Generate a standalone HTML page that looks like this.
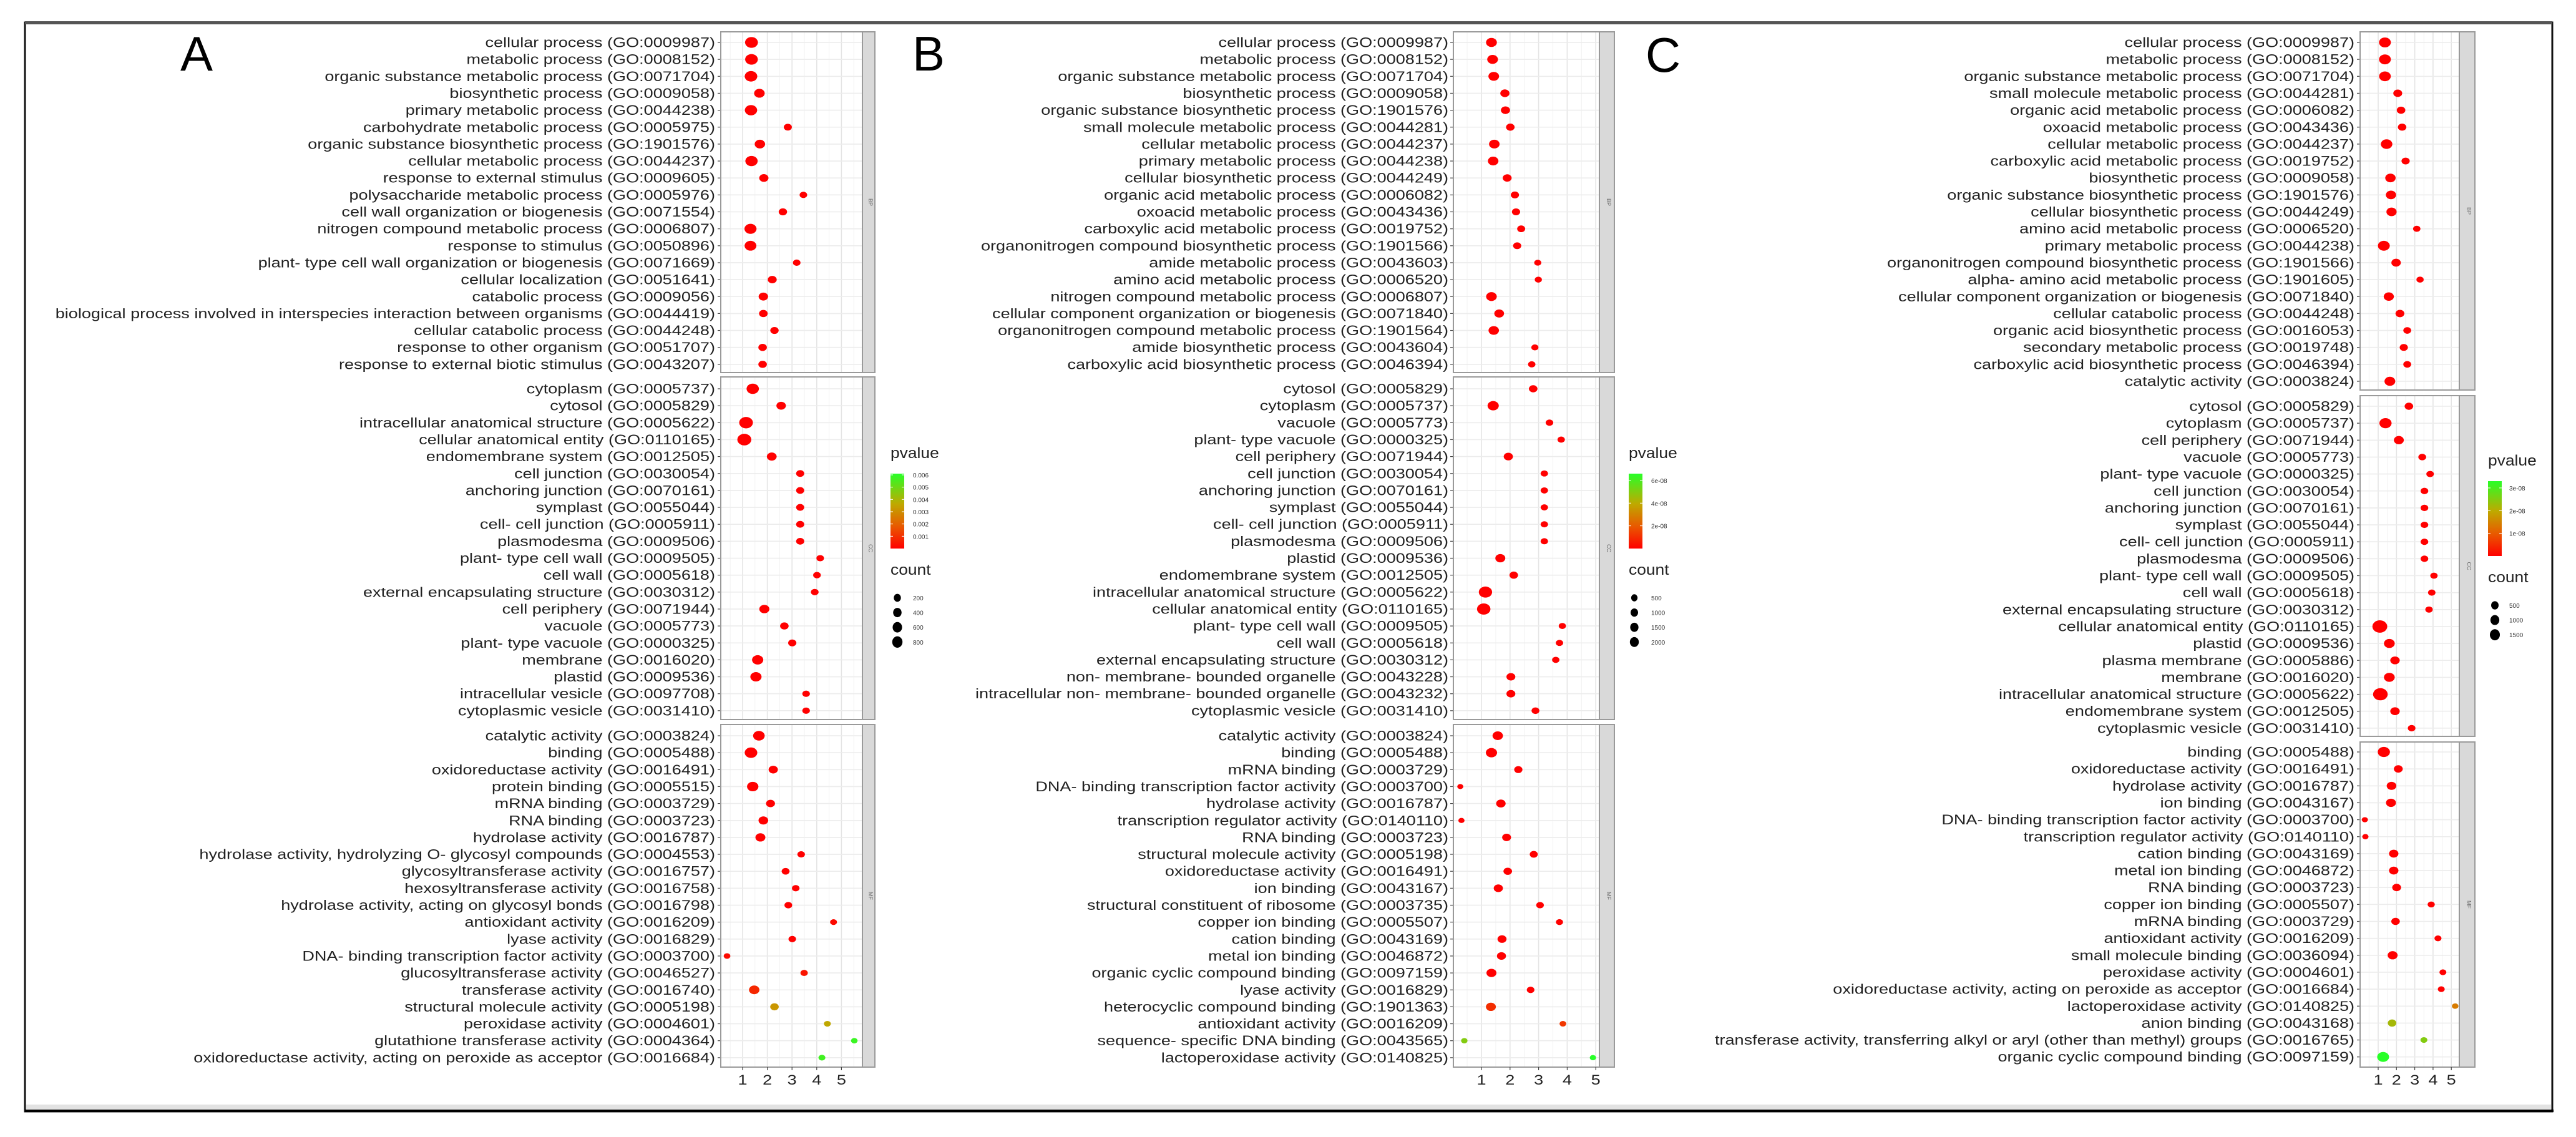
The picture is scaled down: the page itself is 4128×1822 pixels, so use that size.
<!DOCTYPE html>
<html><head><meta charset="utf-8"><title>GO enrichment dot plots</title>
<style>
html,body{margin:0;padding:0;background:#fff;}
svg{display:block;font-family:"Liberation Sans",Arial,sans-serif;}
</style></head>
<body>
<svg id="fig" width="4128" height="1822" viewBox="0 0 4128 1822" xmlns="http://www.w3.org/2000/svg">
<rect x="0" y="0" width="4128" height="1822" fill="#fff"/>
<g>
<rect x="40" y="36" width="4050" height="1745" fill="none" stroke="#111" stroke-width="3"/>
<rect x="40" y="34" width="4050" height="5" fill="#555"/>
<rect x="42" y="1770" width="4046" height="7" fill="#e2e2e2"/>
<rect x="40" y="1778" width="4052" height="4" fill="#000"/>
</g>
<text x="315" y="113" font-size="78" text-anchor="middle" fill="#000">A</text>
<text x="1488" y="113" font-size="78" text-anchor="middle" fill="#000">B</text>
<text x="2665" y="115" font-size="78" text-anchor="middle" fill="#000">C</text>
</svg>
<script>
// ---------- Panel A data ----------
const aLabels = [
"cellular process (GO:0009987)","metabolic process (GO:0008152)","organic substance metabolic process (GO:0071704)","biosynthetic process (GO:0009058)","primary metabolic process (GO:0044238)","carbohydrate metabolic process (GO:0005975)","organic substance biosynthetic process (GO:1901576)","cellular metabolic process (GO:0044237)","response to external stimulus (GO:0009605)","polysaccharide metabolic process (GO:0005976)","cell wall organization or biogenesis (GO:0071554)","nitrogen compound metabolic process (GO:0006807)","response to stimulus (GO:0050896)","plant- type cell wall organization or biogenesis (GO:0071669)","cellular localization (GO:0051641)","catabolic process (GO:0009056)","biological process involved in interspecies interaction between organisms (GO:0044419)","cellular catabolic process (GO:0044248)","response to other organism (GO:0051707)","response to external biotic stimulus (GO:0043207)",
"cytoplasm (GO:0005737)","cytosol (GO:0005829)","intracellular anatomical structure (GO:0005622)","cellular anatomical entity (GO:0110165)","endomembrane system (GO:0012505)","cell junction (GO:0030054)","anchoring junction (GO:0070161)","symplast (GO:0055044)","cell- cell junction (GO:0005911)","plasmodesma (GO:0009506)","plant- type cell wall (GO:0009505)","cell wall (GO:0005618)","external encapsulating structure (GO:0030312)","cell periphery (GO:0071944)","vacuole (GO:0005773)","plant- type vacuole (GO:0000325)","membrane (GO:0016020)","plastid (GO:0009536)","intracellular vesicle (GO:0097708)","cytoplasmic vesicle (GO:0031410)",
"catalytic activity (GO:0003824)","binding (GO:0005488)","oxidoreductase activity (GO:0016491)","protein binding (GO:0005515)","mRNA binding (GO:0003729)","RNA binding (GO:0003723)","hydrolase activity (GO:0016787)","hydrolase activity, hydrolyzing O- glycosyl compounds (GO:0004553)","glycosyltransferase activity (GO:0016757)","hexosyltransferase activity (GO:0016758)","hydrolase activity, acting on glycosyl bonds (GO:0016798)","antioxidant activity (GO:0016209)","lyase activity (GO:0016829)","DNA- binding transcription factor activity (GO:0003700)","glucosyltransferase activity (GO:0046527)","transferase activity (GO:0016740)","structural molecule activity (GO:0005198)","peroxidase activity (GO:0004601)","glutathione transferase activity (GO:0004364)","oxidoreductase activity, acting on peroxide as acceptor (GO:0016684)"];
const aFacetSizes = [20, 20, 20];
const aFacetNames = ["BP", "CC", "MF"];
const aValues = [1.36,1.36,1.34,1.68,1.34,2.83,1.70,1.36,1.86,3.46,2.63,1.32,1.32,3.19,2.20,1.84,1.84,2.29,1.81,1.81,
1.41,2.56,1.14,1.07,2.18,3.33,3.33,3.33,3.33,3.33,4.14,4.01,3.92,1.88,2.69,3.01,1.61,1.54,3.57,3.57,
1.66,1.34,2.24,1.41,2.13,1.84,1.72,3.37,2.74,3.15,2.85,4.68,3.01,0.37,3.49,1.47,2.29,4.43,5.52,4.21];
const aCounts = [650,620,600,320,560,90,300,560,180,60,110,520,480,60,150,200,130,110,120,120,
560,200,800,850,230,90,90,90,90,90,60,65,65,260,120,100,400,400,60,60,
450,600,180,420,150,220,250,60,80,60,70,30,60,25,50,300,120,30,20,30];
const aPvalues = [0,0,0,0,0,0,0,0,0,0,0,0,0,0,0,0,0,0,0,0,
0,0,0,0,0,0,0,0,0,0,0,0,0,0,0,0,0,0,0,0,
0,0,0,0,0,0,0,0,0,0,0,0.0002,0,0.0002,0.0004,0.0008,0.0032,0.0036,0.0058,0.0057];
const aTicks = [1,2,3,4,5];
const aPvalLegend = ["0.006","0.005","0.004","0.003","0.002","0.001"];
const aPvalLegendValues = [0.006,0.005,0.004,0.003,0.002,0.001];
const aCountLegend = [200,400,600,800];

// ---------- Panel B data ----------
const bLabels = [
"cellular process (GO:0009987)","metabolic process (GO:0008152)","organic substance metabolic process (GO:0071704)","biosynthetic process (GO:0009058)","organic substance biosynthetic process (GO:1901576)","small molecule metabolic process (GO:0044281)","cellular metabolic process (GO:0044237)","primary metabolic process (GO:0044238)","cellular biosynthetic process (GO:0044249)","organic acid metabolic process (GO:0006082)","oxoacid metabolic process (GO:0043436)","carboxylic acid metabolic process (GO:0019752)","organonitrogen compound biosynthetic process (GO:1901566)","amide metabolic process (GO:0043603)","amino acid metabolic process (GO:0006520)","nitrogen compound metabolic process (GO:0006807)","cellular component organization or biogenesis (GO:0071840)","organonitrogen compound metabolic process (GO:1901564)","amide biosynthetic process (GO:0043604)","carboxylic acid biosynthetic process (GO:0046394)",
"cytosol (GO:0005829)","cytoplasm (GO:0005737)","vacuole (GO:0005773)","plant- type vacuole (GO:0000325)","cell periphery (GO:0071944)","cell junction (GO:0030054)","anchoring junction (GO:0070161)","symplast (GO:0055044)","cell- cell junction (GO:0005911)","plasmodesma (GO:0009506)","plastid (GO:0009536)","endomembrane system (GO:0012505)","intracellular anatomical structure (GO:0005622)","cellular anatomical entity (GO:0110165)","plant- type cell wall (GO:0009505)","cell wall (GO:0005618)","external encapsulating structure (GO:0030312)","non- membrane- bounded organelle (GO:0043228)","intracellular non- membrane- bounded organelle (GO:0043232)","cytoplasmic vesicle (GO:0031410)",
"catalytic activity (GO:0003824)","binding (GO:0005488)","mRNA binding (GO:0003729)","DNA- binding transcription factor activity (GO:0003700)","hydrolase activity (GO:0016787)","transcription regulator activity (GO:0140110)","RNA binding (GO:0003723)","structural molecule activity (GO:0005198)","oxidoreductase activity (GO:0016491)","ion binding (GO:0043167)","structural constituent of ribosome (GO:0003735)","copper ion binding (GO:0005507)","cation binding (GO:0043169)","metal ion binding (GO:0046872)","organic cyclic compound binding (GO:0097159)","lyase activity (GO:0016829)","heterocyclic compound binding (GO:1901363)","antioxidant activity (GO:0016209)","sequence- specific DNA binding (GO:0043565)","lactoperoxidase activity (GO:0140825)"];
const bFacetSizes = [20, 20, 20];
const bFacetNames = ["BP", "CC", "MF"];
const bValues = [1.35,1.39,1.43,1.82,1.84,2.01,1.45,1.41,1.90,2.17,2.21,2.39,2.25,2.97,2.99,1.35,1.62,1.43,2.87,2.76,
2.81,1.41,3.38,3.79,1.94,3.20,3.20,3.20,3.20,3.20,1.66,2.13,1.14,1.08,3.83,3.73,3.60,2.03,2.03,2.89,
1.57,1.35,2.29,0.26,1.68,0.30,1.88,2.83,1.92,1.59,3.05,3.73,1.72,1.70,1.35,2.72,1.33,3.85,0.40,4.90];
const bCounts = [1400,1350,1300,700,680,500,1250,1250,600,400,400,350,380,150,160,1300,900,1200,160,200,
500,1600,250,200,700,200,200,200,200,200,1000,500,2900,3000,180,200,200,600,600,300,
1200,1600,400,30,800,40,600,350,500,700,250,150,650,650,1000,250,1000,100,60,50];
const bPvalues = [0,0,0,0,0,0,0,0,0,0,0,0,0,0,0,0,0,0,0,0,
0,0,0,0,0,0,0,0,0,0,0,0,0,0,0,0,0,0,0,0,
0,0,0,0,0,0,0,0,0,0,0,0,0,0,0,0,1.0e-8,1.2e-8,5.0e-8,6.6e-8];
const bTicks = [1,2,3,4,5];
const bPvalLegend = ["6e-08","4e-08","2e-08"];
const bPvalLegendValues = [6e-8,4e-8,2e-8];
const bCountLegend = [500,1000,1500,2000];

// ---------- Panel C data ----------
const cLabels = [
"cellular process (GO:0009987)","metabolic process (GO:0008152)","organic substance metabolic process (GO:0071704)","small molecule metabolic process (GO:0044281)","organic acid metabolic process (GO:0006082)","oxoacid metabolic process (GO:0043436)","cellular metabolic process (GO:0044237)","carboxylic acid metabolic process (GO:0019752)","biosynthetic process (GO:0009058)","organic substance biosynthetic process (GO:1901576)","cellular biosynthetic process (GO:0044249)","amino acid metabolic process (GO:0006520)","primary metabolic process (GO:0044238)","organonitrogen compound biosynthetic process (GO:1901566)","alpha- amino acid metabolic process (GO:1901605)","cellular component organization or biogenesis (GO:0071840)","cellular catabolic process (GO:0044248)","organic acid biosynthetic process (GO:0016053)","secondary metabolic process (GO:0019748)","carboxylic acid biosynthetic process (GO:0046394)","catalytic activity (GO:0003824)",
"cytosol (GO:0005829)","cytoplasm (GO:0005737)","cell periphery (GO:0071944)","vacuole (GO:0005773)","plant- type vacuole (GO:0000325)","cell junction (GO:0030054)","anchoring junction (GO:0070161)","symplast (GO:0055044)","cell- cell junction (GO:0005911)","plasmodesma (GO:0009506)","plant- type cell wall (GO:0009505)","cell wall (GO:0005618)","external encapsulating structure (GO:0030312)","cellular anatomical entity (GO:0110165)","plastid (GO:0009536)","plasma membrane (GO:0005886)","membrane (GO:0016020)","intracellular anatomical structure (GO:0005622)","endomembrane system (GO:0012505)","cytoplasmic vesicle (GO:0031410)",
"binding (GO:0005488)","oxidoreductase activity (GO:0016491)","hydrolase activity (GO:0016787)","ion binding (GO:0043167)","DNA- binding transcription factor activity (GO:0003700)","transcription regulator activity (GO:0140110)","cation binding (GO:0043169)","metal ion binding (GO:0046872)","RNA binding (GO:0003723)","copper ion binding (GO:0005507)","mRNA binding (GO:0003729)","antioxidant activity (GO:0016209)","small molecule binding (GO:0036094)","peroxidase activity (GO:0004601)","oxidoreductase activity, acting on peroxide as acceptor (GO:0016684)","lactoperoxidase activity (GO:0140825)","anion binding (GO:0043168)","transferase activity, transferring alkyl or aryl (other than methyl) groups (GO:0016765)","organic cyclic compound binding (GO:0097159)"];
const cFacetSizes = [21, 20, 19];
const cFacetNames = ["BP", "CC", "MF"];
const cValues = [1.37,1.37,1.37,2.07,2.25,2.31,1.46,2.50,1.67,1.70,1.73,3.11,1.31,1.98,3.29,1.58,2.19,2.59,2.40,2.59,1.64,
2.68,1.40,2.13,3.41,3.84,3.53,3.53,3.53,3.53,3.53,4.05,3.93,3.78,1.09,1.61,1.92,1.61,1.12,1.92,2.83,
1.31,2.10,1.73,1.70,0.27,0.30,1.85,1.85,2.01,3.90,1.95,4.27,1.79,4.54,4.45,5.21,1.76,3.50,1.27];
const cCounts = [1000,1000,950,300,250,240,900,200,600,580,560,100,1000,400,90,550,300,160,200,160,700,
250,1100,500,150,120,130,130,130,130,130,100,110,110,2100,700,400,700,2000,400,130,
1100,300,450,500,20,25,400,400,300,80,250,70,500,60,60,40,250,60,1000];
const cPvalues = [0,0,0,0,0,0,0,0,0,0,0,0,0,0,0,0,0,0,0,0,0,
0,0,0,0,0,0,0,0,0,0,0,0,0,0,0,0,0,0,0,0,
0,0,0,0,0,0,0,0,0,0,0,0,0,0,0,1.4e-8,2.2e-8,2.5e-8,3.3e-8];
const cTicks = [1,2,3,4,5];
const cPvalLegend = ["3e-08","2e-08","1e-08"];
const cPvalLegendValues = [3e-8,2e-8,1e-8];
const cCountLegend = [500,1000,1500];

// ---------- layout (non-data) ----------
const NS = "http://www.w3.org/2000/svg";
const svg = document.getElementById("fig");
const ROW = 27.15;
const TXS = 1.23; // horizontal text stretch
function mk(tag, attrs, parent) {
  const e = document.createElementNS(NS, tag);
  for (const k in attrs) e.setAttribute(k, attrs[k]);
  (parent || svg).appendChild(e);
  return e;
}
const stops = [[0,[255,0,0]],[0.3,[232,90,0]],[0.6,[190,170,0]],[1,[40,255,40]]];
function pColor(t) {
  t = Math.max(0, Math.min(1, t));
  for (let i = 1; i < stops.length; i++) {
    if (t <= stops[i][0]) {
      const a = stops[i-1], b = stops[i];
      const f = (t - a[0]) / (b[0] - a[0]);
      const c = a[1].map((v, j) => Math.round(v + (b[1][j] - v) * f));
      return "rgb(" + c.join(",") + ")";
    }
  }
  return "rgb(40,255,40)";
}

const panels = [
  {id:"a", labels:aLabels, facets:aFacetSizes, fnames:aFacetNames, values:aValues, counts:aCounts, pvals:aPvalues, ticks:aTicks,
   pl:aPvalLegend, plv:aPvalLegendValues, cl:aCountLegend, pmax:0.0061,
   labelRight:1146, plotLeft:1155, plotRight:1382, stripRight:1402, x1:1190, unit:39.6,
   facetBox:[[51,597],[604,1153],[1161,1710]], firstRow:[68,623,1179],
   rBase:3.5, rK:0.2, leg:{x:1427, y:734, lx:1463, dx:1438}},
  {id:"b", labels:bLabels, facets:bFacetSizes, fnames:bFacetNames, values:bValues, counts:bCounts, pvals:bPvalues, ticks:bTicks,
   pl:bPvalLegend, plv:bPvalLegendValues, cl:bCountLegend, pmax:6.6e-8,
   labelRight:2321, plotLeft:2329, plotRight:2563, stripRight:2587, x1:2374, unit:45.8,
   facetBox:[[51,597],[604,1153],[1161,1710]], firstRow:[68,623,1179],
   rBase:3.5, rK:0.1, leg:{x:2610, y:734, lx:2646, dx:2619}},
  {id:"c", labels:cLabels, facets:cFacetSizes, fnames:cFacetNames, values:cValues, counts:cCounts, pvals:cPvalues, ticks:cTicks,
   pl:cPvalLegend, plv:cPvalLegendValues, cl:cCountLegend, pmax:3.3e-8,
   labelRight:3773, plotLeft:3782, plotRight:3941, stripRight:3966, x1:3811, unit:29.3,
   facetBox:[[51,625],[634,1180],[1189,1710]], firstRow:[68,651,1205],
   rBase:3.5, rK:0.14, leg:{x:3987, y:746, lx:4021, dx:3998}}
];

panels.forEach(P => {
  const g = mk("g", {});
  
  
  const xs = v => P.x1 + (v - 1) * P.unit;
  const ry = c => P.rBase + P.rK * Math.sqrt(c);
  let idx = 0;
  P.facets.forEach((n, fi) => {
    const [top, bot] = P.facetBox[fi];
    const fg = mk("g", {}, g);
    
    
    mk("rect", {x:P.plotLeft, y:top, width:P.plotRight-P.plotLeft, height:bot-top, fill:"#fff"}, fg);
    // vertical grid: minor and major
    const v0 = 1 + (P.plotLeft - P.x1) / P.unit, v1 = 1 + (P.plotRight - P.x1) / P.unit;
    for (let v = Math.ceil(v0*2)/2; v <= v1; v += 0.5) {
      const major = Math.abs(v - Math.round(v)) < 1e-6;
      mk("line", {x1:xs(v), x2:xs(v), y1:top, y2:bot, stroke: major ? "#e4e4e4" : "#f2f2f2", "stroke-width": major ? 1.6 : 1}, fg);
    }
    for (let r = 0; r < n; r++) {
      const y = P.firstRow[fi] + r * ROW;
      mk("line", {x1:P.plotLeft, x2:P.plotRight, y1:y, y2:y, stroke:"#ececec", "stroke-width":1.6}, fg);
      mk("line", {x1:P.plotLeft-5, x2:P.plotLeft, y1:y, y2:y, stroke:"#444", "stroke-width":1.2}, fg);
      const t = mk("text", {transform:"translate(" + P.labelRight + "," + (y + 7.5) + ") scale(" + TXS + ",1)", "text-anchor":"end", "font-size":22, fill:"#222"}, fg);
      
      
      t.textContent = P.labels[idx];
      const R = ry(P.counts[idx]);
      const d = mk("ellipse", {cx:xs(P.values[idx]), cy:y, rx:R*1.2, ry:R, fill:pColor(P.pvals[idx]/P.pmax)}, fg);
      
      
      idx++;
    }
    mk("rect", {x:P.plotLeft, y:top, width:P.plotRight-P.plotLeft, height:bot-top, fill:"none", stroke:"#9a9a9a", "stroke-width":2}, fg);
    const st = mk("rect", {x:P.plotRight, y:top, width:P.stripRight-P.plotRight, height:bot-top, fill:"#d9d9d9", stroke:"#9a9a9a", "stroke-width":2}, fg);
    
    
    const sx = (P.plotRight + P.stripRight) / 2, sy = (top + bot) / 2;
    const stt = mk("text", {x:sx, y:sy, transform:"rotate(90 " + sx + " " + sy + ")", "text-anchor":"middle", "font-size":9, fill:"#666"}, fg);
    
    
    stt.textContent = P.fnames[fi];
  });
  // x axis
  const axY = P.facetBox[2][1];
  P.ticks.forEach(v => {
    mk("line", {x1:xs(v), x2:xs(v), y1:axY, y2:axY+5, stroke:"#444", "stroke-width":1.2}, g);
    const t = mk("text", {transform:"translate(" + xs(v) + "," + (axY + 28) + ") scale(" + TXS + ",1)", "text-anchor":"middle", "font-size":22, fill:"#222"}, g);
    
    
    t.textContent = v;
  });
  // legend
  const L = P.leg;
  const lg = mk("g", {}, svg);
  
  
  const tt = mk("text", {transform:"translate(" + L.x + "," + L.y + ") scale(1.1,1)", "font-size":24, fill:"#222"}, lg);
  
  
  tt.textContent = "pvalue";
  const barTop = L.y + 25, barBot = barTop + 120;
  const gid = "grad" + P.id;
  const defs = mk("defs", {}, lg);
  const lgr = mk("linearGradient", {id:gid, x1:0, y1:1, x2:0, y2:0}, defs);
  for (let i = 0; i <= 10; i++) mk("stop", {offset:i/10, "stop-color":pColor(i/10)}, lgr);
  const bar = mk("rect", {x:L.x, y:barTop, width:22, height:barBot-barTop, fill:"url(#" + gid + ")"}, lg);
  
  
  P.plv.forEach((v, i) => {
    const y = barBot - (v / P.pmax) * (barBot - barTop);
    mk("line", {x1:L.x, x2:L.x+4, y1:y, y2:y, stroke:"#fff", "stroke-width":1}, lg);
    mk("line", {x1:L.x+18, x2:L.x+22, y1:y, y2:y, stroke:"#fff", "stroke-width":1}, lg);
    const t = mk("text", {x:L.lx, y:y+4, "font-size":10, fill:"#333"}, lg);
    
    
    t.textContent = P.pl[i];
  });
  const ct = mk("text", {transform:"translate(" + L.x + "," + (L.y + 187) + ") scale(1.1,1)", "font-size":24, fill:"#222"}, lg);
  
  
  ct.textContent = "count";
  P.cl.forEach((c, i) => {
    const y = L.y + 224 + i * 23.6;
    const R = ry(c);
    const d = mk("ellipse", {cx:L.dx, cy:y, rx:R*0.9, ry:R, fill:"#000"}, lg);
    
    
    const t = mk("text", {x:L.lx, y:y+4, "font-size":10, fill:"#333"}, lg);
    
    
    t.textContent = c;
  });
});
</script>
</body></html>
